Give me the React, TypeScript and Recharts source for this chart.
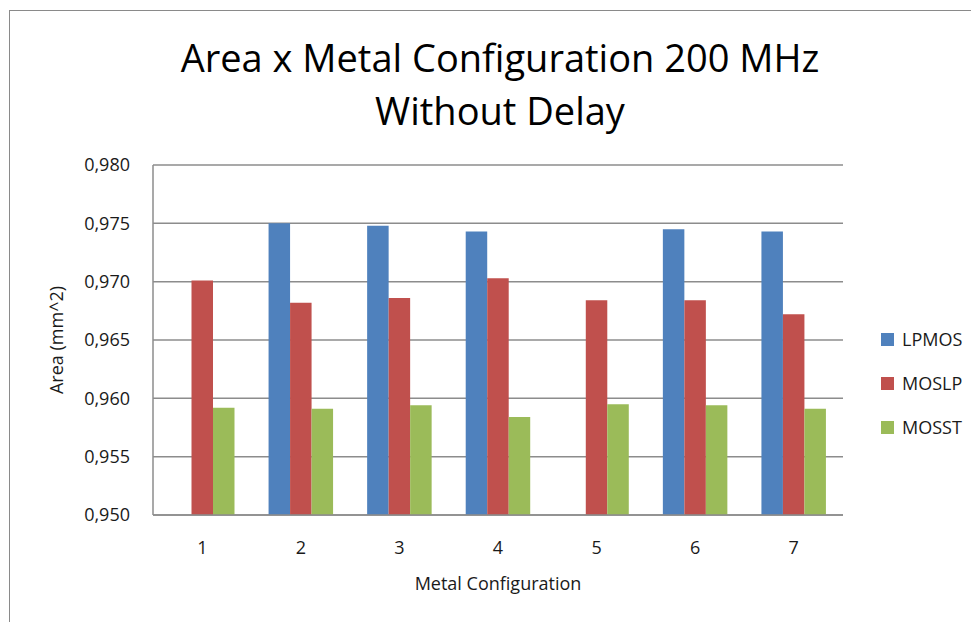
import { BarChart, Bar, XAxis, YAxis, CartesianGrid, Legend } from "recharts";

const configs = ["1", "2", "3", "4", "5", "6", "7"];
// LPMOS has no visible bar for configs 1 and 5
const lpmos = [null, 0.975, 0.9748, 0.9743, null, 0.9745, 0.9743];
const moslp = [0.9701, 0.9682, 0.9686, 0.9703, 0.9684, 0.9684, 0.9672];
const mosst = [0.9592, 0.9591, 0.9594, 0.9584, 0.9595, 0.9594, 0.9591];
const yTicks = [0.95, 0.955, 0.96, 0.965, 0.97, 0.975, 0.98];

const series = [
  { key: "LPMOS", color: "#4F81BD" },
  { key: "MOSLP", color: "#C0504D" },
  { key: "MOSST", color: "#9BBB59" },
];

const data = configs.map((c, i) => ({
  config: c,
  LPMOS: lpmos[i],
  MOSLP: moslp[i],
  MOSST: mosst[i],
}));

const FONT = "'Open Sans', sans-serif";

const fmt = (v: number) => v.toFixed(3).replace(".", ",");

function LegendBox() {
  return (
    <div style={{ fontFamily: FONT, fontSize: 18, color: "#1a1a1a" }}>
      {series.map((s) => (
        <div
          key={s.key}
          style={{ height: 44, display: "flex", alignItems: "center" }}
        >
          <span
            style={{
              width: 13,
              height: 13,
              background: s.color,
              display: "inline-block",
              marginRight: 8,
            }}
          />
          {s.key}
        </div>
      ))}
    </div>
  );
}

export default function App() {
  return (
    <div
      style={{
        marginLeft: 1,
        marginTop: 2,
        width: 969,
        height: 611,
        borderLeft: "1px solid #8a8a8a",
        borderTop: "1px solid #8a8a8a",
        background: "#fff",
      }}
    >
      <BarChart
        width={969}
        height={611}
        data={data}
        margin={{ top: 154, right: 36, bottom: 67, left: 20 }}
        barGap={0}
        barSize={21.5}
      >
        <text
          x={490}
          y={61}
          textAnchor="middle"
          fontFamily={FONT}
          fontSize={38}
          fill="#000"
        >
          Area x Metal Configuration 200 MHz
        </text>
        <text
          x={490}
          y={114}
          textAnchor="middle"
          fontFamily={FONT}
          fontSize={38}
          fill="#000"
        >
          Without Delay
        </text>
        <CartesianGrid
          vertical={false}
          stroke="#8c8c8c"
          strokeWidth={1.5}
        />
        <XAxis
          dataKey="config"
          height={40}
          tickLine={false}
          tickSize={0}
          tickMargin={26}
          axisLine={{ stroke: "#8c8c8c", strokeWidth: 1.5 }}
          tick={{ fontFamily: FONT, fontSize: 18, fill: "#1a1a1a" }}
          label={{
            value: "Metal Configuration",
            position: "bottom",
            offset: 22,
            style: { fontFamily: FONT, fontSize: 18, fill: "#1a1a1a" },
          }}
        />
        <YAxis
          width={123}
          domain={[0.95, 0.98]}
          ticks={yTicks}
          interval={0}
          allowDataOverflow
          tickFormatter={fmt}
          tickLine={false}
          tickSize={0}
          tickMargin={23}
          axisLine={{ stroke: "#8c8c8c", strokeWidth: 1.5 }}
          tick={{ fontFamily: FONT, fontSize: 18, fill: "#1a1a1a" }}
          label={{
            value: "Area (mm^2)",
            angle: -90,
            position: "insideLeft",
            offset: 27,
            style: {
              fontFamily: FONT,
              fontSize: 18,
              fill: "#1a1a1a",
              textAnchor: "middle",
            },
          }}
        />
        <Legend
          layout="vertical"
          align="right"
          verticalAlign="middle"
          content={<LegendBox />}
          wrapperStyle={{ position: "absolute", left: 871, top: 306, width: 100 }}
        />
        {series.map((s) => (
          <Bar
            key={s.key}
            dataKey={s.key}
            fill={s.color}
            isAnimationActive={false}
          />
        ))}
      </BarChart>
    </div>
  );
}
